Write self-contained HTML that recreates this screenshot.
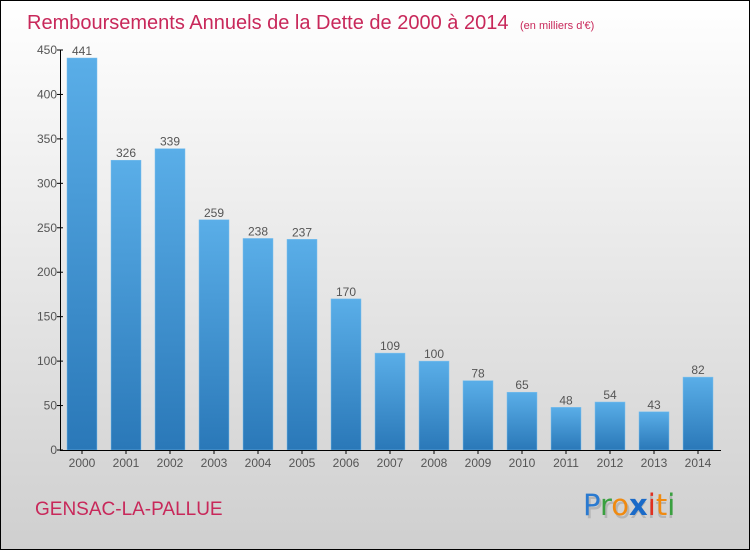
<!DOCTYPE html>
<html><head><meta charset="utf-8"><style>
body{margin:0}
#c{width:748px;height:548px;border:1px solid #000;background:linear-gradient(#fff,#cfcfcf);position:relative;overflow:hidden;font-family:"Liberation Sans",sans-serif}
</style></head><body>
<div id="c">
<svg id="s" width="748" height="548" style="position:absolute;left:0;top:0">
<defs><linearGradient id="g" x1="0" y1="0" x2="0" y2="1"><stop offset="0" stop-color="#5aaee8"/><stop offset="1" stop-color="#2a78b8"/></linearGradient></defs>
<text x="26" y="28" font-size="20" fill="#c8285a">Remboursements Annuels de la Dette de 2000 à 2014 <tspan font-size="11" dx="6">(en milliers d'€)</tspan></text>
<text x="34" y="514" font-size="19" fill="#c8285a">GENSAC-LA-PALLUE</text>
<g font-size="29" font-family="DejaVu Sans, sans-serif">
<text x="584" y="517" fill="#999" opacity="0.5">Proxiti</text>
<text x="582" y="514"><tspan fill="#2a7ad0">P</tspan><tspan fill="#3aa040">r</tspan><tspan fill="#f08a10">o</tspan><tspan fill="#1a6ac8" font-weight="bold">x</tspan><tspan fill="#e03020">i</tspan><tspan fill="#f08a10">t</tspan><tspan fill="#3aa040">i</tspan></text>
</g>
<g id="plot"></g>
</svg>
</div>
<script>
const categories=["2000","2001","2002","2003","2004","2005","2006","2007","2008","2009","2010","2011","2012","2013","2014"];
const values=[441,326,339,259,238,237,170,109,100,78,65,48,54,43,82];
const yTicks=[0,50,100,150,200,250,300,350,400,450];
const ns="http://www.w3.org/2000/svg";
const g=document.getElementById('plot');
const y=v=>449-v*(400/450);
const x=i=>81+i*44;
function el(t,a,p){const e=document.createElementNS(ns,t);for(const k in a)e.setAttribute(k,a[k]);(p||g).appendChild(e);return e;}
values.forEach((v,i)=>{
 const r=el('rect',{x:x(i)-15,y:y(v),width:30,height:449-y(v),fill:'url(#g)',stroke:'#7cc0ee','stroke-width':0.5});
 
 
 const t=el('text',{x:x(i),y:y(v)-3,'text-anchor':'middle','font-size':12,fill:'#555'});t.textContent=values[i];
 
 
 const c=el('text',{x:x(i),y:466,'text-anchor':'middle','font-size':12,fill:'#555'});c.textContent=categories[i];
 
 
 el('line',{x1:x(i),x2:x(i),y1:449,y2:453,stroke:'#000'});
});
yTicks.forEach(v=>{
 el('line',{x1:56,x2:62,y1:y(v),y2:y(v),stroke:'#000'});
 const t=el('text',{x:56,y:y(v)+4,'text-anchor':'end','font-size':12,fill:'#555'});t.textContent=v;
 
 
});
const ya=el('line',{x1:59.5,x2:59.5,y1:y(450),y2:449,stroke:'#000'});


const xa=el('line',{x1:59,x2:720,y1:449.5,y2:449.5,stroke:'#000'});


</script>
</body></html>
